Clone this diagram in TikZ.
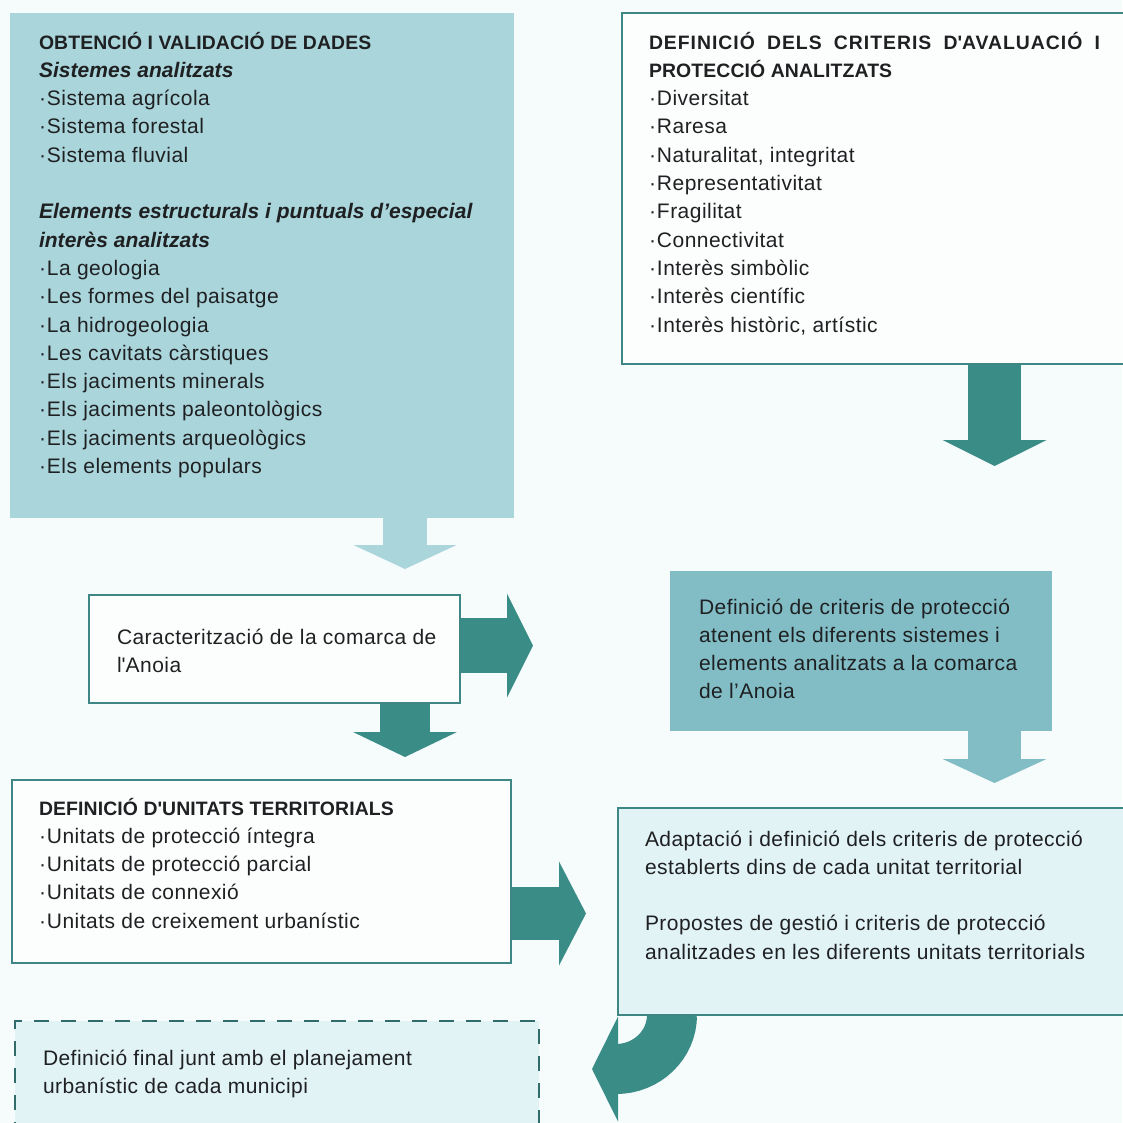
\documentclass[tikz,border=0pt]{standalone}
\usepackage{fontspec}
\setmainfont{Liberation Sans}
\usetikzlibrary{arrows.meta,backgrounds}
\definecolor{pagebg}{RGB}{246,251,252}
\definecolor{lt}{RGB}{170,213,219}
\definecolor{md}{RGB}{130,189,198}
\definecolor{dk}{RGB}{58,140,135}
\definecolor{bd}{RGB}{62,135,132}
\definecolor{pale}{RGB}{226,243,246}
\definecolor{wbox}{RGB}{252,254,254}
\definecolor{ink}{RGB}{30,32,34}
\newcommand\hdfont{\fontsize{19.4}{28.3}\selectfont\addfontfeature{LetterSpace=0.6}\bfseries}
\newcommand\hdwide{\fontsize{19.4}{28.3}\selectfont\addfontfeature{LetterSpace=5}\bfseries}
\newcommand\bifont{\fontsize{21}{28.3}\selectfont\addfontfeature{LetterSpace=0.2}\bfseries\itshape}
\newcommand\bul{·\hspace{1pt}}
\begin{document}
\begin{tikzpicture}[x=1pt,y=-1pt,
  box/.style={anchor=north west,inner sep=0pt,outer sep=0pt,line width=2pt},
  framed/.style={box,draw=bd},
  txt/.style={anchor=north west,inner sep=0pt,outer sep=0pt,align=left,text=ink,
    font=\fontsize{21}{28.3}\selectfont\addfontfeature{LetterSpace=2.2}},
  blk/.style={line width=#1,line cap=butt}]
\useasboundingbox (0,0) rectangle (1122,1123);
% boxes
\node[box,fill=lt,minimum width=504pt,minimum height=505pt] (b1) at (10,13) {};
\node[framed,fill=wbox,minimum width=508pt,minimum height=351pt] (b2) at (622,13) {};
\node[framed,fill=wbox,minimum width=371pt,minimum height=108pt] (b3) at (89,595) {};
\node[box,fill=md,minimum width=382pt,minimum height=160pt] (b4) at (670,571) {};
\node[framed,fill=pale,minimum width=512pt,minimum height=207pt] (b5) at (618,808) {};
\node[framed,fill=wbox,minimum width=499pt,minimum height=183pt] (b6) at (12,780) {};
\node[box,fill=pale,draw=bd!80!black,line width=1.6pt,dash pattern=on 15pt off 12pt,
  minimum width=524pt,minimum height=120pt] (b7) at (15,1021) {};
% texts
\node[txt] (t1) at (39,29.2) {\strut{\hdfont OBTENCIÓ I VALIDACIÓ DE DADES}\\
{\bifont Sistemes analitzats}\\
\bul Sistema agrícola\\
\bul Sistema forestal\\
\bul Sistema fluvial\\[28.3pt]
{\bifont Elements estructurals i puntuals d’especial}\\
{\bifont interès analitzats}\\
\bul La geologia\\
\bul Les formes del paisatge\\
\bul La hidrogeologia\\
\bul Les cavitats càrstiques\\
\bul Els jaciments minerals\\
\bul Els jaciments paleontològics\\
\bul Els jaciments arqueològics\\
\bul Els elements populars};
\node[txt] (t2) at (649,29.2) {\strut{\hdwide\makebox[451pt][s]{DEFINICIÓ DELS CRITERIS D\textquotesingle AVALUACIÓ I}}\\
{\hdfont PROTECCIÓ ANALITZATS}\\
\bul Diversitat\\
\bul Raresa\\
\bul Naturalitat, integritat\\
\bul Representativitat\\
\bul Fragilitat\\
\bul Connectivitat\\
\bul Interès simbòlic\\
\bul Interès científic\\
\bul Interès històric, artístic};
\node[txt] (t3) at (117,624.2) {\strut Caracterització de la comarca de\\
l\textquotesingle Anoia};
\node[txt] (t4) at (699,594.2) {\strut Definició de criteris de protecció\\
atenent els diferents sistemes i\\
elements analitzats a la comarca\\
de l’Anoia};
\node[txt] (t5) at (645,826.2) {\strut Adaptació i definició dels criteris de protecció\\
establerts dins de cada unitat territorial\\[28.3pt]
Propostes de gestió i criteris de protecció\\
analitzades en les diferents unitats territorials};
\node[txt] (t6) at (39,795.2) {\strut{\hdfont DEFINICIÓ D\textquotesingle UNITATS TERRITORIALS}\\
\bul Unitats de protecció íntegra\\
\bul Unitats de protecció parcial\\
\bul Unitats de connexió\\
\bul Unitats de creixement urbanístic};
\node[txt] (t7) at (43,1045.2) {\strut Definició final junt amb el planejament\\
urbanístic de cada municipi};
% arrows (behind boxes)
\begin{pgfonlayer}{background}
\fill[pagebg] (0,0) rectangle (1122,1123);
\draw[blk=44pt,lt,-{Triangle[width=102pt,length=24pt]}]
  ([xshift=395pt]b1.south west) -- ([xshift=316pt,yshift=26pt]b3.north west);
\draw[blk=55pt,dk,-{Triangle[width=103pt,length=26pt]}]
  ([yshift=3.5pt]b3.east) -- ([xshift=-137pt,yshift=5.5pt]b4.west);
\draw[blk=50pt,dk,-{Triangle[width=103pt,length=25pt]}]
  ([xshift=316pt]b3.south west) -- ([xshift=393pt,yshift=23pt]b6.north west);
\draw[blk=53pt,dk,-{Triangle[width=103pt,length=26pt]}]
  ([xshift=372.5pt]b2.south west) -- ([xshift=324.5pt,yshift=105pt]b4.north west);
\draw[blk=53pt,md,-{Triangle[width=103pt,length=24pt]}]
  ([xshift=324.5pt]b4.south west) -- ([xshift=376.5pt,yshift=25pt]b5.north west);
\draw[blk=53pt,dk,-{Triangle[width=103pt,length=27pt]}]
  ([yshift=-42pt]b6.east) -- ([xshift=-32pt,yshift=-2pt]b5.west);
\draw[blk=50pt,dk,-{Triangle[width=104pt,length=26pt]}]
  ([xshift=54pt]b5.south west) arc[start angle=0,end angle=90,x radius=56,y radius=54]
  -- ([xshift=-26pt,yshift=-54pt]b5.south west);
\end{pgfonlayer}
\end{tikzpicture}
\end{document}
